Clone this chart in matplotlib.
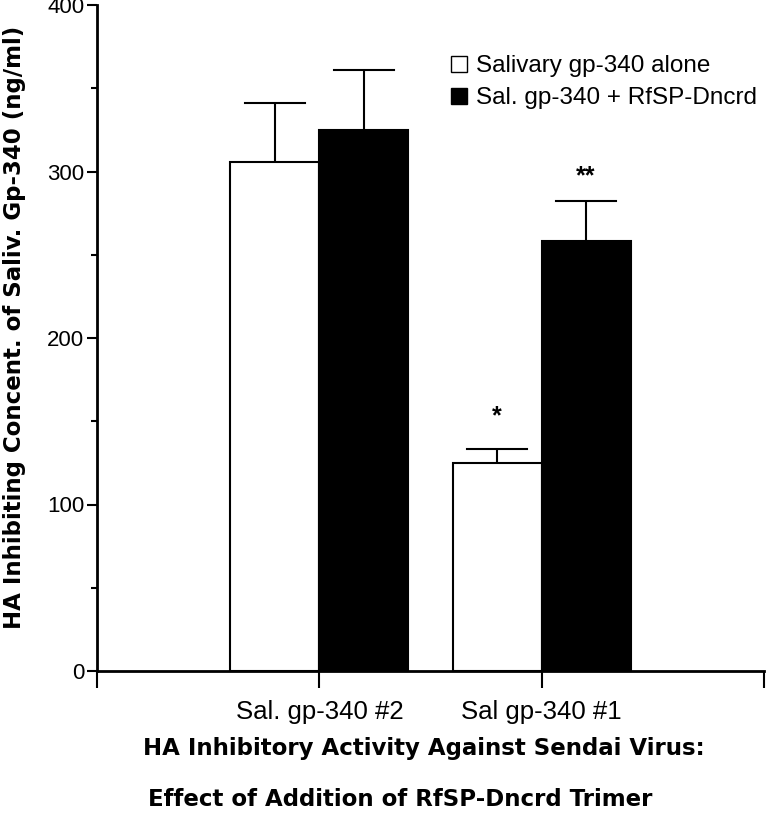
import numpy as np
import matplotlib
matplotlib.use('Agg')
import matplotlib.pyplot as plt
from matplotlib.lines import Line2D

plt.rcParams['font.family'] = ['Liberation Sans', 'DejaVu Sans']

categories = ['Sal. gp-340 #2', 'Sal gp-340 #1']
alone = [306, 125]
alone_err = [35, 8.5]
with_rfsp = [325, 258]
with_rfsp_err = [36, 24]
stars_alone = ['', '*']
stars_rfsp = ['', '**']
series_labels = ['Salivary gp-340 alone', 'Sal. gp-340 + RfSP-Dncrd']

fig = plt.figure(figsize=(7.7, 8.15), dpi=100)
ax = fig.add_axes([97 / 770, 1 - 671 / 815, (764 - 97) / 770, (671 - 5) / 815])

x = np.arange(1, len(categories) + 1)
w = 0.4
ax.bar(x - w / 2, alone, w, color='white', edgecolor='black', linewidth=1.5,
       yerr=[np.zeros(len(alone)), alone_err], capsize=0,
       error_kw=dict(ecolor='black', elinewidth=1.5))
ax.bar(x + w / 2, with_rfsp, w, color='black', edgecolor='black', linewidth=1.5,
       yerr=[np.zeros(len(with_rfsp)), with_rfsp_err], capsize=0,
       error_kw=dict(ecolor='black', elinewidth=1.5))

# caps drawn as short horizontal lines
cap = 0.135
for xi, v, e in zip(x - w / 2, alone, alone_err):
    ax.plot([xi - cap, xi + cap], [v + e, v + e], color='black', lw=1.5)
for xi, v, e in zip(x + w / 2, with_rfsp, with_rfsp_err):
    ax.plot([xi - cap, xi + cap], [v + e, v + e], color='black', lw=1.5)

for xi, v, e, s in zip(x - w / 2, alone, alone_err, stars_alone):
    ax.text(xi, v + e + 12, s, ha='center', va='bottom', fontsize=18, fontweight='bold')
for xi, v, e, s in zip(x + w / 2, with_rfsp, with_rfsp_err, stars_rfsp):
    ax.text(xi, v + e + 8, s, ha='center', va='bottom', fontsize=18, fontweight='bold')

ax.set_xlim(0, 3)
ax.set_ylim(0, 400)
ax.set_xticks([0, 1, 2, 3])
ax.set_xticklabels([''] + categories + [''], fontsize=18.5)
ax.set_yticks([0, 100, 200, 300, 400])
ax.set_yticks([50, 150, 250, 350], minor=True)
ax.tick_params(axis='y', which='major', length=7, width=1.5, labelsize=16, pad=2)
ax.tick_params(axis='y', which='minor', length=4, width=1.5)
ax.tick_params(axis='x', length=12, width=1.5, pad=9)
for s in ['top', 'right']:
    ax.spines[s].set_visible(False)
for s in ['left', 'bottom']:
    ax.spines[s].set_linewidth(2)

fig.text(15 / 770, 1 - 327 / 815, 'HA Inhibiting Concent. of Saliv. Gp-340 (ng/ml)',
         fontsize=16.5, fontweight='bold', family='DejaVu Sans', rotation=90,
         ha='center', va='center')

handles = [Line2D([], [], ls='none', marker='s', markersize=11, markerfacecolor='white',
                  markeredgecolor='black', markeredgewidth=1),
           Line2D([], [], ls='none', marker='s', markersize=11, markerfacecolor='black',
                  markeredgecolor='black', markeredgewidth=1)]
ax.legend(handles, series_labels, loc='upper left', bbox_to_anchor=(449 / 770, 1 - 55 / 815),
          bbox_transform=fig.transFigure, frameon=False, fontsize=17.5, handlelength=0.8,
          handletextpad=0.3, labelspacing=0.42, borderaxespad=0, borderpad=0)

fig.text(143 / 770, 1 - 748 / 815, 'HA Inhibitory Activity Against Sendai Virus:',
         fontsize=16.5, fontweight='bold', family='DejaVu Sans', va='center', ha='left')
fig.text(148 / 770, 1 - 800 / 815, 'Effect of Addition of RfSP-Dncrd Trimer',
         fontsize=16.5, fontweight='bold', family='DejaVu Sans', va='center', ha='left')

fig.savefig('out.png', dpi=100)
